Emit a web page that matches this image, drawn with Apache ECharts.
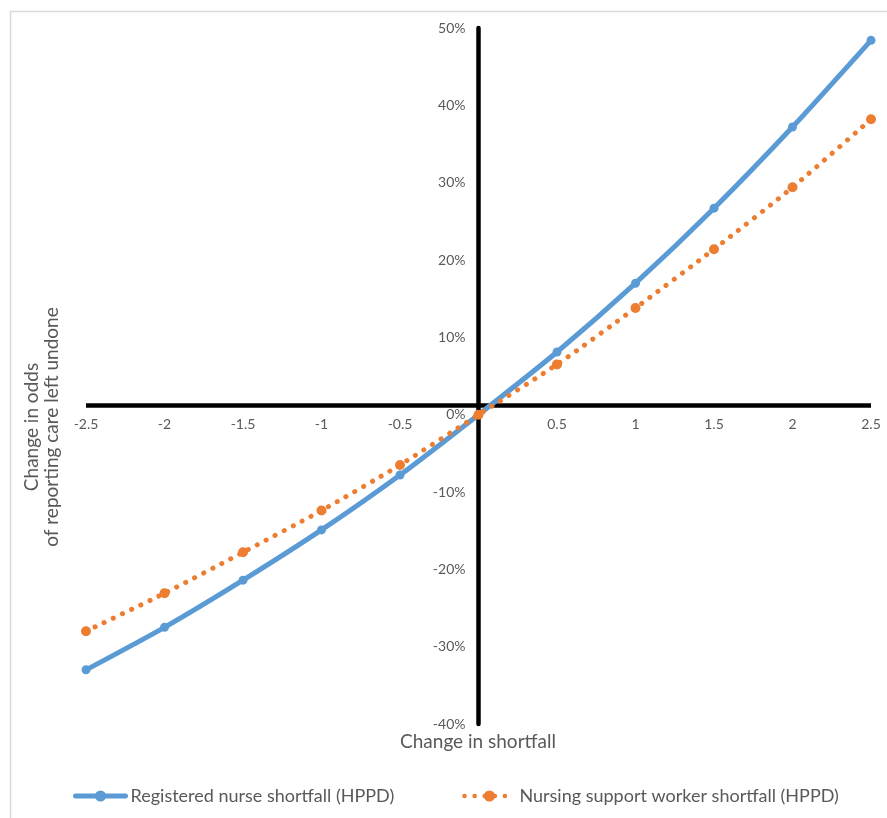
<!DOCTYPE html>
<html>
<head>
<meta charset="utf-8">
<script src="https://cdn.jsdelivr.net/npm/echarts@6/dist/echarts.min.js"></script>
<style>
html,body{margin:0;padding:0;background:#fff;}
#chart{width:887px;height:818px;}
</style>
</head>
<body>
<div id="chart"></div>
<script>
// Data
const xValues = [-2.5, -2, -1.5, -1, -0.5, 0, 0.5, 1, 1.5, 2, 2.5];
const nurseShortfall = [-33.0, -27.5, -21.4, -14.9, -7.8, 0, 8.1, 17.0, 26.7, 37.2, 48.4];
const supportShortfall = [-28.0, -23.1, -17.8, -12.4, -6.5, 0, 6.5, 13.8, 21.4, 29.4, 38.2];
const seriesNames = ['Registered nurse shortfall (HPPD)', 'Nursing support worker shortfall (HPPD)'];
const xAxisTitle = 'Change in shortfall';
const yAxisTitle = ['Change in odds', 'of reporting care left undone'];
const horizontalAxisCrossing = 1.2; // value (%) where the horizontal axis line is drawn

const font = 'Lato, "Open Sans", sans-serif';
const gray = '#595959';

// layout
const W = 887, H = 818;
const gridL = 86, gridR = 16, gridT = 28, gridB = 94;
const gw = W - gridL - gridR, gh = H - gridT - gridB;
const xMin = -2.5, xMax = 2.5, yMin = -40, yMax = 50;
// shift axes so they sit at the zero of the other axis
const yAxisOffset = -gw * (0 - xMin) / (xMax - xMin);
const xAxisOffset = -gh * (0 - yMin) / (yMax - yMin);

const chart = echarts.init(document.getElementById('chart'));
chart.setOption({
  backgroundColor: '#fff',
  animation: false,
  grid: { left: gridL, right: gridR, top: gridT, bottom: gridB, containLabel: false },
  xAxis: {
    type: 'value', min: xMin, max: xMax, interval: 0.5, position: 'bottom',
    offset: xAxisOffset,
    axisLine: { show: false, onZero: false },
    axisTick: { show: false },
    splitLine: { show: false },
    axisLabel: {
      margin: 3, color: gray, fontSize: 14, fontFamily: font,
      formatter: v => (v === 0 ? '' : String(v))
    }
  },
  yAxis: {
    type: 'value', min: yMin, max: yMax, interval: 10, position: 'left',
    offset: yAxisOffset,
    axisLine: { show: true, onZero: false, lineStyle: { color: '#000', width: 4.5 } },
    axisTick: { show: false },
    splitLine: { show: false },
    axisLabel: { margin: 13, color: gray, fontSize: 14, fontFamily: font, formatter: '{value}%' }
  },
  legend: {
    top: 782, left: 68, itemWidth: 50, itemHeight: 14, itemGap: 68,
    textStyle: { color: gray, fontSize: 18, fontFamily: font },
    data: [
      { name: seriesNames[0], lineStyle: { width: 5 } },
      { name: seriesNames[1], lineStyle: { width: 4.5 } }
    ]
  },
  series: [
    {
      name: seriesNames[0], type: 'line', smooth: 0.25, z: 3,
      data: xValues.map((x, i) => [x, nurseShortfall[i]]),
      symbol: 'circle', symbolSize: 9,
      itemStyle: { color: '#5b9bd5' },
      lineStyle: { color: '#5b9bd5', width: 5, cap: 'round' },
      markLine: {
        silent: true, symbol: 'none', z: 1,
        label: { show: false },
        lineStyle: { color: '#000', width: 4.5, type: 'solid' },
        data: [{ yAxis: horizontalAxisCrossing }]
      }
    },
    {
      name: seriesNames[1], type: 'line', smooth: 0.25, z: 4,
      data: xValues.map((x, i) => [x, supportShortfall[i]]),
      symbol: 'circle', symbolSize: 10,
      itemStyle: { color: '#ed7d31' },
      lineStyle: { color: '#ed7d31', width: 5, type: [0.1, 10], cap: 'round' }
    }
  ],
  graphic: [
    {
      type: 'rect', left: 8, top: 9, z: -1,
      shape: { width: 900, height: 900 },
      style: { fill: 'none', stroke: '#d9d9d9', lineWidth: 1.5 }
    },
    {
      type: 'text', x: 478, y: 742, z: 10,
      style: { text: xAxisTitle, fill: gray, font: '19px ' + font, textAlign: 'center', textVerticalAlign: 'middle' }
    },
    {
      type: 'text', x: 32, y: 427, rotation: Math.PI / 2, z: 10,
      style: { text: yAxisTitle[0], fill: gray, font: '19px ' + font, textAlign: 'center', textVerticalAlign: 'middle' }
    },
    {
      type: 'text', x: 52, y: 427, rotation: Math.PI / 2, z: 10,
      style: { text: yAxisTitle[1], fill: gray, font: '19px ' + font, textAlign: 'center', textVerticalAlign: 'middle' }
    }
  ]
});
</script>
</body>
</html>
